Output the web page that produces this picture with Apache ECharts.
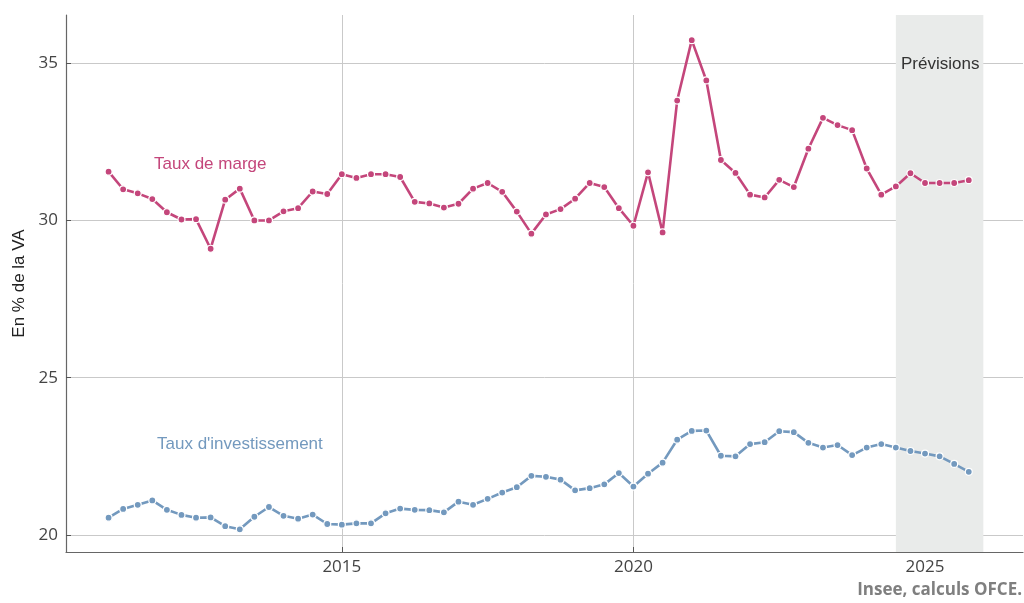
<!DOCTYPE html>
<html>
<head>
    <meta charset="utf-8">
    <title>Taux de marge et taux d'investissement</title>
    <script type="text/javascript" src="https://cdn.jsdelivr.net/npm/echarts@6.0.0/dist/echarts.min.js"></script>
</head>
<body style="margin:0">
    <div id="main" style="width: 1024px;height:603px;"></div>
    <script type="text/javascript">
        // trimestres 2011T1 -> 2025T4
        var anneeDebut = 2011, nbTrim = 60;
        var trimestres = [];
        for (var i = 0; i < nbTrim; i++) {
            trimestres.push(anneeDebut + Math.floor(i / 4) + (i % 4) / 4);
        }

        var tauxMarge = [
            31.55, 30.99, 30.86, 30.68, 30.26, 30.03, 30.04, 29.10,
            30.66, 31.01, 30.00, 30.00, 30.29, 30.39, 30.92, 30.84,
            31.47, 31.35, 31.47, 31.47, 31.38, 30.59, 30.54, 30.41,
            30.53, 31.01, 31.19, 30.91, 30.28, 29.58, 30.19, 30.36,
            30.69, 31.19, 31.06, 30.39, 29.83, 31.53, 29.62, 33.81,
            35.73, 34.45, 31.92, 31.51, 30.82, 30.73, 31.29, 31.06,
            32.28, 33.26, 33.03, 32.87, 31.65, 30.82, 31.08, 31.50,
            31.19, 31.19, 31.19, 31.28
        ];
        var tauxInvest = [
            20.55, 20.83, 20.96, 21.10, 20.80, 20.64, 20.55, 20.56,
            20.28, 20.18, 20.58, 20.89, 20.61, 20.52, 20.65, 20.35,
            20.33, 20.37, 20.37, 20.69, 20.84, 20.80, 20.79, 20.72,
            21.06, 20.96, 21.15, 21.35, 21.52, 21.88, 21.85, 21.76,
            21.42, 21.49, 21.61, 21.97, 21.54, 21.95, 22.30, 23.03,
            23.31, 23.32, 22.52, 22.50, 22.89, 22.95, 23.30, 23.27,
            22.93, 22.78, 22.86, 22.54, 22.78, 22.89, 22.78, 22.67,
            22.59, 22.50, 22.26, 22.01
        ];
        var xTicks = [2015, 2020, 2025];
        var yTicks = [20, 25, 30, 35];
        var prevision = [2024.5, 2026];

        var couleurMarge = '#c4467b';
        var couleurInvest = '#7399be';

        function paires(vals) {
            var out = [];
            for (var i = 0; i < vals.length; i++) out.push([trimestres[i], vals[i]]);
            return out;
        }

        var myChart = echarts.init(document.getElementById('main'), null, {renderer: 'canvas'});

        var option = {
            backgroundColor: '#ffffff',
            animation: false,
            textStyle: {fontFamily: 'Open Sans'},
            grid: {left: 66, right: 1, top: 15, bottom: 51, outerBoundsMode: 'none', containLabel: false},
            xAxis: {
                type: 'value',
                min: 2010.27,
                max: 2026.68,
                axisLine: {lineStyle: {color: '#666', width: 1.2}},
                axisTick: {inside: true, length: 5, customValues: xTicks, lineStyle: {color: '#555'}},
                axisLabel: {customValues: xTicks, color: '#444', fontSize: 17, margin: 7,
                    formatter: function (v) { return String(v); }},
                splitLine: {show: true, lineStyle: {color: '#c9c9c9', width: 1}}
            },
            yAxis: {
                type: 'value',
                min: 19.46,
                max: 36.53,
                name: 'En % de la VA',
                nameLocation: 'middle',
                nameGap: 36,
                nameTextStyle: {fontFamily: 'Liberation Sans', fontSize: 17, color: '#222'},
                axisLine: {show: true, lineStyle: {color: '#666', width: 1.2}},
                axisTick: {show: true, inside: true, length: 5, customValues: yTicks, lineStyle: {color: '#555'}},
                axisLabel: {customValues: yTicks, color: '#444', fontSize: 17, margin: 8},
                splitLine: {show: true, lineStyle: {color: '#c9c9c9', width: 1}}
            },
            series: [
                {
                    name: 'Taux de marge',
                    type: 'line',
                    data: paires(tauxMarge),
                    symbol: 'circle',
                    symbolSize: 7,
                    lineStyle: {color: couleurMarge, width: 2.6},
                    itemStyle: {color: couleurMarge, borderColor: '#fff', borderWidth: 1.2},
                    markArea: {
                        silent: true,
                        itemStyle: {color: '#e9ebea'},
                        data: [[{xAxis: prevision[0]}, {xAxis: prevision[1]}]]
                    },
                    z: 3
                },
                {
                    name: "Taux d'investissement",
                    type: 'line',
                    data: paires(tauxInvest),
                    symbol: 'circle',
                    symbolSize: 7,
                    lineStyle: {color: couleurInvest, width: 2.6},
                    itemStyle: {color: couleurInvest, borderColor: '#fff', borderWidth: 1.2},
                    z: 3
                }
            ],
            graphic: [
                {type: 'text', left: 154, top: 156, z: 10,
                    style: {text: 'Taux de marge', fill: couleurMarge, font: '17px "Liberation Sans"'}},
                {type: 'text', left: 157, top: 436, z: 10,
                    style: {text: "Taux d'investissement", fill: couleurInvest, font: '17px "Liberation Sans"'}},
                {type: 'text', left: 901, top: 56, z: 10,
                    style: {text: 'Prévisions', fill: '#333', font: '17px "Liberation Sans"'}},
                {type: 'text', right: 2, top: 582, z: 10,
                    style: {text: 'Insee, calculs OFCE.', fill: '#7f7f7f', font: 'bold 17px "Open Sans"'}}
            ]
        };

        myChart.setOption(option);
    </script>
</body>
</html>
